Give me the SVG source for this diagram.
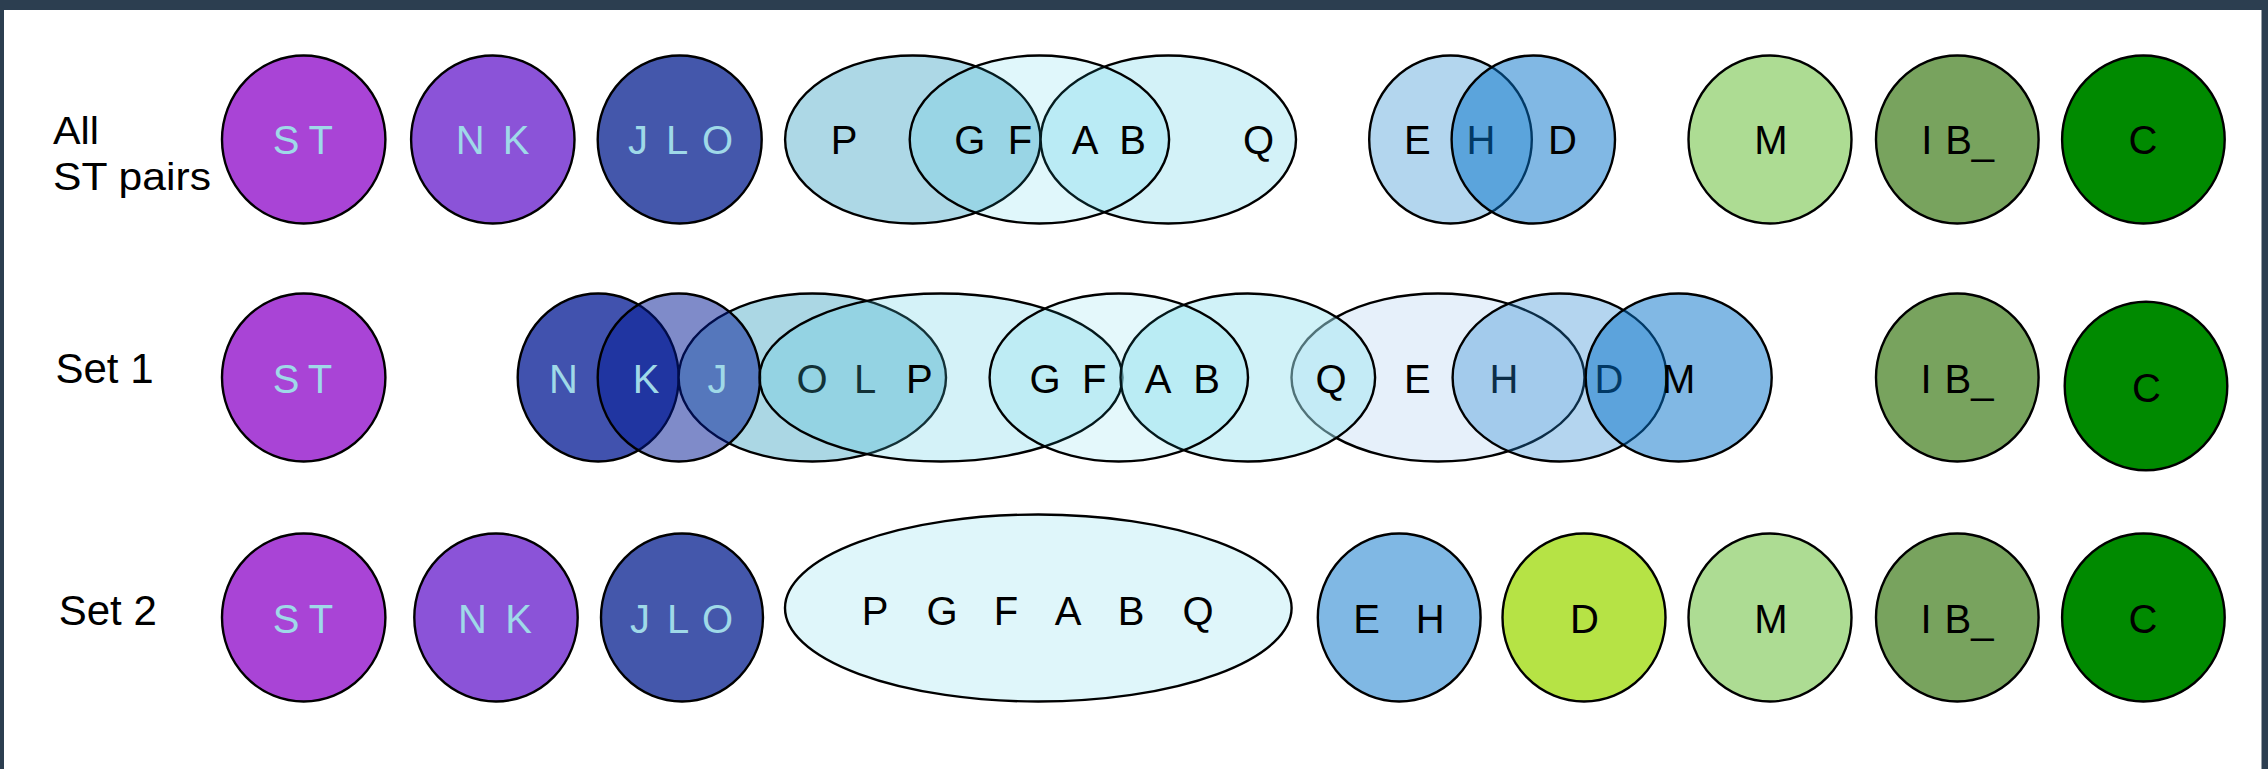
<svg xmlns="http://www.w3.org/2000/svg" width="2268" height="769" viewBox="0 0 2268 769">
<style>
.n{stroke:#000;stroke-width:2.4}
.t{font-family:"Liberation Sans",Arial,Helvetica,sans-serif;font-size:40px;text-anchor:middle;fill:#000}
.lt{fill:#9fd9e8}
.rl{font-family:"Liberation Sans",Arial,Helvetica,sans-serif;fill:#000}
</style>
<rect x="0" y="0" width="2268" height="769" fill="#2c3e50"/>
<rect x="4" y="10" width="2257.5" height="759" fill="#ffffff"/>
<g id="labels">
<text class="rl" x="53" y="144" font-size="38" textLength="46" lengthAdjust="spacingAndGlyphs">All</text>
<text class="rl" x="53" y="190" font-size="38" textLength="158" lengthAdjust="spacingAndGlyphs">ST pairs</text>
<text class="rl" x="55.5" y="383" font-size="42">Set 1</text>
<text class="rl" x="58.7" y="625" font-size="42">Set 2</text>
</g>
<g id="row1">
<g id="r1-st"><ellipse class="n" cx="303.7" cy="139.5" rx="81.7" ry="84" fill="#a944d6"/><text class="t lt" x="286 303 320.7" y="154">S T</text></g>
<g id="r1-nk"><ellipse class="n" cx="492.8" cy="139.5" rx="81.7" ry="84" fill="#8b53d8"/><text class="t lt" x="470.2 493 516.2" y="154">N K</text></g>
<g id="r1-jlo"><ellipse class="n" cx="679.7" cy="139.5" rx="82" ry="84" fill="#4457ab"/><text class="t lt" x="638 657 677 697 717.5" y="154">J L O</text></g>
<g id="r1-p"><ellipse class="n" cx="912.8" cy="139.5" rx="127.7" ry="84" fill="#add8e6"/><text class="t" x="844" y="154">P</text></g>
<g id="r1-q"><ellipse class="n" cx="1168.3" cy="139.5" rx="127.7" ry="84" fill="#d3f2f8"/><text class="t" x="1258.5" y="154">Q</text></g>
<g id="r1-gfab"><ellipse class="n" cx="1039.4" cy="139.5" rx="129.7" ry="84" fill="#21c6e2" fill-opacity="0.14"/><text class="t" x="969.8 995 1020" y="154">G F</text><text class="t" x="1085 1109 1132.6" y="154">A B</text></g>
<g id="r1-e"><ellipse class="n" cx="1450.5" cy="139.5" rx="81.3" ry="84" fill="#b3d6ee"/><text class="t" x="1417.4" y="154">E</text><text class="t" x="1481" y="154">H</text></g>
<g id="r1-d"><ellipse class="n" cx="1533.3" cy="139.5" rx="81.7" ry="84" fill="#0471ca" fill-opacity="0.5"/><text class="t" x="1562.5" y="154">D</text></g>
<g id="r1-m"><ellipse class="n" cx="1770" cy="139.5" rx="81.5" ry="84" fill="#addc93"/><text class="t" x="1771" y="154">M</text></g>
<g id="r1-ib"><ellipse class="n" cx="1957.3" cy="139.5" rx="81.3" ry="84" fill="#78a35e"/><text class="t" x="1926.8 1942 1969.6" y="154">I B_</text></g>
<g id="r1-c"><ellipse class="n" cx="2143.4" cy="139.5" rx="81.3" ry="84" fill="#008a00"/><text class="t" x="2143" y="154">C</text></g>
</g>
<g id="row2">
<g id="r2-st"><ellipse class="n" cx="303.7" cy="377.5" rx="81.7" ry="84" fill="#a944d6"/><text class="t lt" x="286 303 320" y="393">S T</text></g>
<g id="r2-n"><ellipse class="n" cx="598.2" cy="377.5" rx="80.5" ry="84" fill="#4152ae"/><text class="t lt" x="563.5" y="393">N</text></g>
<g id="r2-ol"><ellipse class="n" cx="812.3" cy="377.5" rx="133.7" ry="84" fill="#abd7e4"/><text class="t" x="812 838.5 865" y="393">O L</text></g>
<g id="r2-k"><ellipse class="n" cx="678.9" cy="377.5" rx="81.2" ry="84" fill="#001793" fill-opacity="0.5"/><text class="t lt" x="646" y="393">K</text><text class="t lt" x="717.5" y="393">J</text></g>
<g id="r2-p"><ellipse class="n" cx="941" cy="377.5" rx="181.5" ry="84" fill="#50cae2" fill-opacity="0.245"/><text class="t" x="919.4" y="393">P</text></g>
<g id="r2-qe"><ellipse class="n" cx="1438" cy="377.5" rx="146.5" ry="84" fill="#e6f0fa"/><text class="t" x="1417.4" y="393">E</text><text class="t" x="1504" y="393">H</text></g>
<g id="r2-ab"><ellipse class="n" cx="1247.8" cy="377.5" rx="127.3" ry="84" fill="#a1e5f1" fill-opacity="0.5"/><text class="t" x="1331" y="393">Q</text></g>
<g id="r2-gf"><ellipse class="n" cx="1118.8" cy="377.5" rx="129.2" ry="84" fill="#21c6e2" fill-opacity="0.12"/><text class="t" x="1045 1069 1094.3" y="393">G F</text><text class="t" x="1158 1182 1206.5" y="393">A B</text></g>
<g id="r2-h"><ellipse class="n" cx="1559.6" cy="377.5" rx="107" ry="84" fill="#2283d0" fill-opacity="0.34"/><text class="t" x="1609" y="393">D</text></g>
<g id="r2-m"><ellipse class="n" cx="1678.7" cy="377.5" rx="93" ry="84" fill="#0471ca" fill-opacity="0.5"/><text class="t" x="1678.7" y="393">M</text></g>
<g id="r2-ib"><ellipse class="n" cx="1957.3" cy="377.5" rx="81.3" ry="84" fill="#78a35e"/><text class="t" x="1926 1941 1969" y="393">I B_</text></g>
<g id="r2-c"><ellipse class="n" cx="2146" cy="386" rx="81.3" ry="84.3" fill="#008a00"/><text class="t" x="2146.4" y="402">C</text></g>
</g>
<g id="row3">
<g id="r3-st"><ellipse class="n" cx="303.7" cy="617.5" rx="81.7" ry="84" fill="#a944d6"/><text class="t lt" x="286 303.5 321" y="633">S T</text></g>
<g id="r3-nk"><ellipse class="n" cx="496" cy="617.5" rx="81.7" ry="84" fill="#8b53d8"/><text class="t lt" x="472.5 495.5 518.7" y="633">N K</text></g>
<g id="r3-jlo"><ellipse class="n" cx="682" cy="617.5" rx="81" ry="84" fill="#4457ab"/><text class="t lt" x="640 659 678 698 717.5" y="633">J L O</text></g>
<g id="r3-pgfabq"><ellipse class="n" cx="1038.3" cy="608" rx="253.3" ry="93.5" fill="#dff6fa"/><text class="t" x="875 908.5 942 974 1006 1037 1068 1099.5 1131 1164.5 1198" y="625">P G F A B Q</text></g>
<g id="r3-eh"><ellipse class="n" cx="1399.2" cy="617.5" rx="81.4" ry="84" fill="#80b8e4"/><text class="t" x="1366.5 1398.4 1430.3" y="633">E H</text></g>
<g id="r3-d"><ellipse class="n" cx="1584" cy="617.5" rx="81.5" ry="84" fill="#b6e345"/><text class="t" x="1584.5" y="633">D</text></g>
<g id="r3-m"><ellipse class="n" cx="1770" cy="617.5" rx="81.5" ry="84" fill="#addc93"/><text class="t" x="1771" y="633">M</text></g>
<g id="r3-ib"><ellipse class="n" cx="1957.3" cy="617.5" rx="81.3" ry="84" fill="#78a35e"/><text class="t" x="1926 1941 1969" y="633">I B_</text></g>
<g id="r3-c"><ellipse class="n" cx="2143.4" cy="617.5" rx="81.3" ry="84" fill="#008a00"/><text class="t" x="2143" y="633">C</text></g>
</g>
<g id="connectors"/>
</svg>
